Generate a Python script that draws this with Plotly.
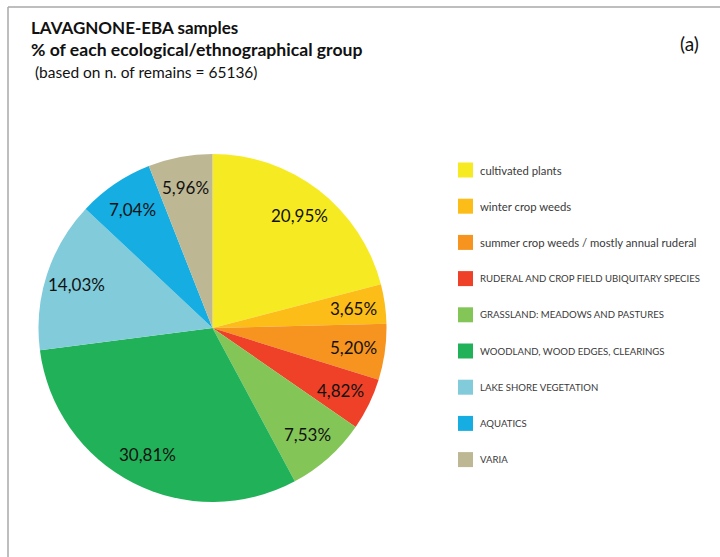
import math
import plotly.graph_objects as go

# Ecological / ethnographical groups and their share of remains (%)
groups = [
    "cultivated plants",
    "winter crop weeds",
    "summer crop weeds / mostly annual ruderal",
    "RUDERAL AND CROP FIELD UBIQUITARY SPECIES",
    "GRASSLAND: MEADOWS AND PASTURES",
    "WOODLAND, WOOD EDGES, CLEARINGS",
    "LAKE SHORE VEGETATION",
    "AQUATICS",
    "VARIA",
]
percent = [20.95, 3.65, 5.20, 4.82, 7.53, 30.81, 14.03, 7.04, 5.96]
colors = [
    "#F6EB23", "#FDBD18", "#F7941F", "#EE4128", "#84C558",
    "#21B259", "#81CBDA", "#15ADE2", "#BDB793",
]

W, H = 720, 557
FONT = "Lato"

# Pie geometry (pixels)
cx, cy, r = 212.5, 328.0, 174.0

fig = go.Figure(
    go.Pie(
        labels=groups,
        values=percent,
        sort=False,
        direction="clockwise",
        rotation=0,
        marker=dict(colors=colors, line=dict(width=0)),
        textinfo="none",
        hoverinfo="label+value",
        showlegend=False,
        domain=dict(
            x=[(cx - r) / W, (cx + r) / W],
            y=[1 - (cy + r) / H, 1 - (cy - r) / H],
        ),
    )
)

annotations = []

# Percentage labels placed along each slice's bisector
total = sum(percent)
cum = 0.0
for v in percent:
    mid = (cum + v / 2) / total * 2 * math.pi
    cum += v
    d = 0.82 * r
    px = cx + d * math.sin(mid)
    py = cy - d * math.cos(mid)
    annotations.append(dict(
        x=px / W, y=1 - py / H, xref="paper", yref="paper",
        text=f"{v:.2f}%".replace(".", ","), showarrow=False,
        font=dict(family=FONT, size=17, color="#111111"),
        xanchor="center", yanchor="middle",
    ))

# Legend: colour swatches with group names
shapes = []
leg_x, leg_y0, leg_dy, sw = 458, 170, 36.2, 15
for i, (g, c) in enumerate(zip(groups, colors)):
    yc = leg_y0 + i * leg_dy
    shapes.append(dict(
        type="rect", xref="paper", yref="paper",
        x0=leg_x / W, x1=(leg_x + sw) / W,
        y0=1 - (yc + sw / 2) / H, y1=1 - (yc - sw / 2) / H,
        fillcolor=c, line=dict(width=0),
    ))
    size = 9.6 if g.isupper() else 11.3
    annotations.append(dict(
        x=(leg_x + sw + 5) / W, y=1 - yc / H, xref="paper", yref="paper",
        text=g, showarrow=False, xanchor="left", yanchor="middle",
        font=dict(family=FONT, size=size, color="#3a3a3a"),
    ))

# Title block
title_lines = [
    ("<b>LAVAGNONE-EBA samples</b>", 29, 27, 17),
    ("<b>% of each ecological/ethnographical group</b>", 29, 49, 17.6),
    (" (based on n. of remains = 65136)", 29, 72, 15.5),
]
for txt, x, y, s in title_lines:
    annotations.append(dict(
        x=x / W, y=1 - y / H, xref="paper", yref="paper", text=txt,
        showarrow=False, xanchor="left", yanchor="middle",
        font=dict(family=FONT, size=s, color="#111111"),
    ))
annotations.append(dict(
    x=701 / W, y=1 - 43 / H, xref="paper", yref="paper", text="(a)",
    showarrow=False, xanchor="right", yanchor="middle",
    font=dict(family=FONT, size=19, color="#111111"),
))

# Frame lines (top and left)
shapes.append(dict(type="line", xref="paper", yref="paper",
                   x0=8 / W, x1=1, y0=1 - 7 / H, y1=1 - 7 / H,
                   line=dict(color="#a8a8a8", width=1.5)))
shapes.append(dict(type="line", xref="paper", yref="paper",
                   x0=8 / W, x1=8 / W, y0=0, y1=1 - 7 / H,
                   line=dict(color="#a8a8a8", width=1.5)))

fig.update_layout(
    width=W, height=H,
    margin=dict(l=0, r=0, t=0, b=0),
    paper_bgcolor="white", plot_bgcolor="white",
    annotations=annotations, shapes=shapes,
    font=dict(family=FONT),
)

fig.write_html("out.html")
